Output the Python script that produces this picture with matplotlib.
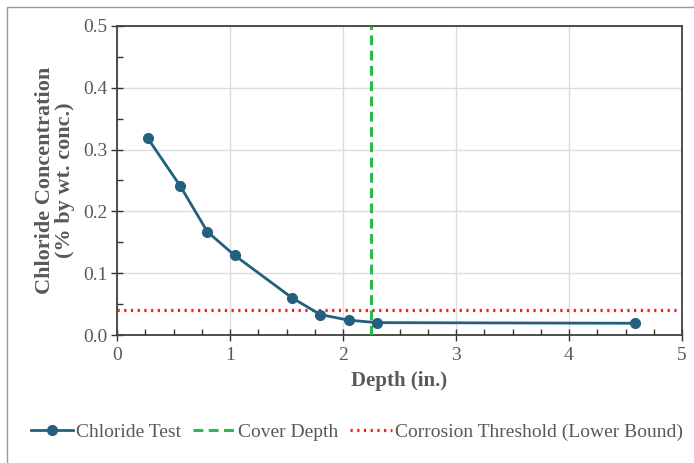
import matplotlib
matplotlib.use("Agg")
import matplotlib.pyplot as plt
from matplotlib.ticker import MultipleLocator
from matplotlib.patches import Rectangle

depth = [0.27, 0.56, 0.80, 1.04, 1.55, 1.80, 2.05, 2.30, 4.58]
chloride = [0.319, 0.241, 0.167, 0.129, 0.060, 0.033, 0.024, 0.020, 0.019]
cover_depth = 2.25
threshold = 0.04

plt.rcParams['font.family'] = ['Liberation Serif', 'DejaVu Serif']
txt = '#595959'

fig = plt.figure(figsize=(6.94, 4.63), dpi=100)
ax = fig.add_axes([117/694, 1-335/463, (682-117)/694, (335-26)/463])

ax.plot(depth, chloride, color='#23607f', lw=2, marker='o', ms=7, label='Chloride Test', zorder=4)
ax.axvline(cover_depth, color='#2db84d', lw=2.2, ls=(0, (3.2, 1.8)), label='Cover Depth', zorder=3)
ax.axhline(threshold, color='#ff1a1a', lw=2.3, ls=(0, (0.7, 1.4)), label='Corrosion Threshold (Lower Bound)', zorder=3)

ax.set_xlim(0, 5)
ax.set_ylim(0, 0.5)
ax.xaxis.set_major_locator(MultipleLocator(1))
ax.xaxis.set_minor_locator(MultipleLocator(0.25))
ax.yaxis.set_major_locator(MultipleLocator(0.1))
ax.yaxis.set_minor_locator(MultipleLocator(0.05))
ax.yaxis.set_major_formatter(plt.FuncFormatter(lambda v, p: f'{v:.1f}'))
ax.grid(True, which='major', color='#dcdcdc', lw=1)
ax.set_axisbelow(True)
ax.tick_params(which='major', direction='inout', length=8, width=1, colors='#333333', labelcolor=txt, labelsize=14, pad=3)
ax.tick_params(axis='x', which='major', pad=5)
ax.tick_params(which='minor', direction='in', length=4, width=1, colors='#333333')
for s in ax.spines.values():
    s.set_color('#404040')
    s.set_linewidth(1.3)

ax.set_xlabel('Depth (in.)', fontsize=15, fontweight='bold', color=txt, labelpad=5)
ax.set_ylabel('Chloride Concentration\n(% by wt. conc.)', fontsize=16, fontweight='bold', color=txt, labelpad=6, linespacing=1.0)

leg = fig.legend(loc='center', bbox_to_anchor=(357/694, 1-432/463), ncol=3, frameon=False,
                 fontsize=14, handlelength=2.15, handletextpad=0.12, columnspacing=0.65)
for t in leg.get_texts():
    t.set_color(txt)

fig.patches.append(Rectangle((7/694, -0.01), 1.0, 1-7/463+0.01, transform=fig.transFigure,
                             fill=False, edgecolor='#9a9a9a', lw=1))

fig.savefig('out.png', dpi=100)
